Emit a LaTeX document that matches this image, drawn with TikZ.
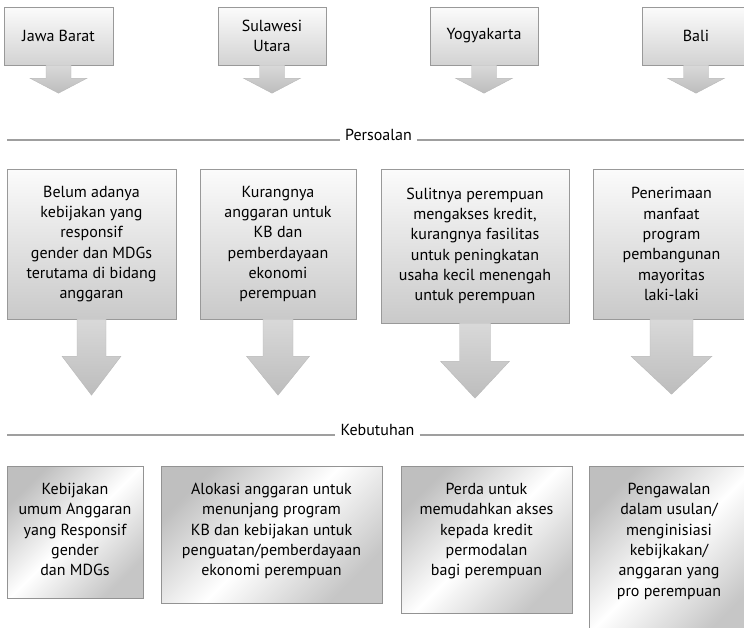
\documentclass[tikz,border=0pt]{standalone}
\usepackage{fontspec}
\setmainfont{PT Sans}
\usetikzlibrary{positioning,calc}

\begin{document}
\begin{tikzpicture}[
    x=1pt, y=-1pt,
    every node/.style={font=\fontsize{16}{20.3}\selectfont},
    prov/.style={draw=gray!80, top color=gray!3, bottom color=gray!35, align=center, minimum width=108pt, minimum height=58pt, inner sep=2pt},
    issue/.style={draw=gray!80, top color=gray!3, bottom color=gray!42, align=center, inner sep=2pt, minimum height=150pt},
    need/.style={draw=gray!85, line width=0.9pt, top color=gray!50, bottom color=gray!45, middle color=white, shading angle=45,
        align=center, anchor=north, inner xsep=2pt, inner ysep=0pt},
    fatarrow/.style={draw=gray!55, top color=gray!30, bottom color=gray!52},
    rule/.style={draw=gray!75, line width=1.6pt},
    divlbl/.style={anchor=base, inner xsep=5pt},
    pics/fatarr/.style args={#1/#2/#3/#4}{code={
        \path[fatarrow] (-#1,0) -- (-#1,#3) -- (-#2,#3) -- (0,#4) -- (#2,#3) -- (#1,#3) -- (#1,0) -- cycle;}}
]
\useasboundingbox (0,0) rectangle (744,627);
\clip (0,0) rectangle (744,627);

% ---- Provinsi ----
\node[prov, minimum width=109pt] (jb) at (58.5,36) {Jawa Barat};
\node[prov] (su) at (272,36) {Sulawesi\\ Utara};
\node[prov] (yo) at (484,36) {Yogyakarta};
\node[prov] (ba) at (696,36) {Bali};

\pic at (jb.south) {fatarr=12.5/28.5/13/28};
\pic at (su.south) {fatarr=12.5/28.5/13/28};
\pic at (yo.south) {fatarr=12.5/28.5/13/28};
\pic at (ba.south) {fatarr=12.5/28.5/13/28};

% ---- Persoalan ----
\coordinate (persL) at (7,140);
\coordinate (persR) at (744,140);
\node[divlbl] (pers) at (378.5,140) {Persoalan};
\draw[rule] (persL) -- (persL -| pers.west);
\draw[rule] (persR -| pers.east) -- (persR);

\node[issue, minimum width=169pt] (b1) at (91.5,244) {Belum adanya\\ kebijakan yang\\ responsif\\ gender dan MDGs\\ terutama di bidang\\ anggaran};
\node[issue, minimum width=156pt] (b2) at (278,244) {Kurangnya\\ anggaran untuk\\ KB dan\\ pemberdayaan\\ ekonomi\\ perempuan};
\node[issue, minimum width=188pt, minimum height=154pt] (b3) at (475,246) {Sulitnya perempuan\\ mengakses kredit,\\ kurangnya fasilitas\\ untuk peningkatan\\ usaha kecil menengah\\ untuk perempuan};
\node[issue, minimum width=157pt] (b4) at (671.5,244) {Penerimaan\\ manfaat\\ program\\ pembangunan\\ mayoritas\\ laki-laki};

\pic at (b1.south) {fatarr=14.5/29.5/37/76};
\pic at (b2.south) {fatarr=15/31.5/37/76};
\pic at (b3.south) {fatarr=15.5/34.5/38/75};
\pic at (b4.south) {fatarr=21.5/40.5/37/75};

% ---- Kebutuhan ----
\coordinate (kebL) at (7,435);
\coordinate (kebR) at (744,435);
\node[divlbl] (keb) at (377.5,435) {Kebutuhan};
\draw[rule] (kebL) -- (kebL -| keb.west);
\draw[rule] (kebR -| keb.east) -- (kebR);

\node[need, minimum width=136pt, text height=109.4pt, text depth=22.6pt] (n1) at (75,466) {Kebijakan\\ umum Anggaran\\ yang Responsif\\ gender\\ dan MDGs};
\node[need, minimum width=221pt, text height=109.4pt, text depth=27.6pt] (n2) at (271.5,466) {Alokasi anggaran untuk\\ menunjang program\\ KB dan kebijakan untuk\\ penguatan/pemberdayaan\\ ekonomi perempuan};
\node[need, minimum width=171pt, text height=109.4pt, text depth=37.6pt] (n3) at (486.5,466) {Perda untuk\\ memudahkan akses\\ kepada kredit\\ permodalan\\ bagi perempuan};
\node[need, minimum width=160pt, text height=129.7pt, text depth=44.3pt] (n4) at (669,466) {Pengawalan\\ dalam usulan/\\ menginisiasi\\ kebijkakan/\\ anggaran yang\\ pro perempuan};
\end{tikzpicture}
\end{document}
